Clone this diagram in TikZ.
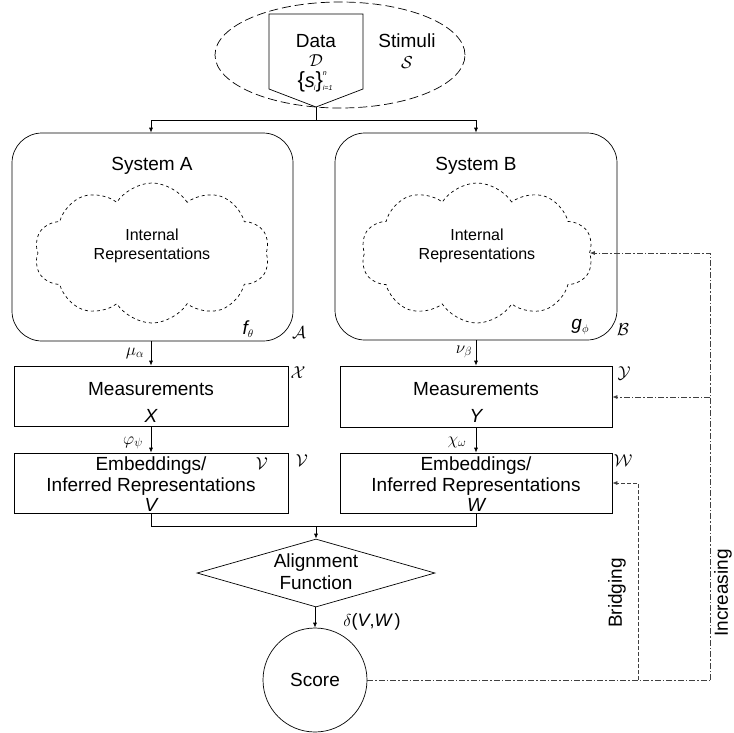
\documentclass[tikz,border=0pt]{standalone}
\usepackage{fontspec}
\setmainfont{Liberation Sans}
\usetikzlibrary{shapes.geometric,shapes.symbols,arrows.meta}
\newcommand{\tinyit}[1]{{\fontsize{7}{8}\selectfont\itshape #1}}
\begin{document}
\begin{tikzpicture}[x=1pt,y=-1pt,
  big/.style={font=\fontsize{19}{22}\selectfont},
  mid/.style={font=\fontsize{16}{19}\selectfont},
  lbl/.style={font=\fontsize{17}{19}\selectfont, inner sep=0pt},
  arr/.style={-{Latex[length=5pt,width=4pt]}},
  sysbox/.style={draw, rounded corners=30pt, inner sep=0pt},
  rectbox/.style={draw, inner sep=0pt},
  cloudbox/.style={draw, dashed, cloud, cloud puffs=10, cloud puff arc=115, aspect=1.7, inner sep=0pt},
  bridge/.style={draw=black!75, dash pattern=on 4pt off 2pt},
  incr/.style={draw=black!75, dash pattern=on 6pt off 2pt on 1.5pt off 2pt},
  line width=0.7pt]
\useasboundingbox (0,0) rectangle (734,732);
% stimuli ellipse
\node[draw, ellipse, dash pattern=on 9pt off 4pt, minimum width=250, minimum height=106, inner sep=0pt] (stim) at (340,55) {};
% data pentagon
\draw (269,14) -- (363,14) -- (363,89) -- (316,107) coordinate (tip) -- (269,89) -- cycle;
\node[big, inner sep=0pt] (dataT) at (316,41) {Data};
\node[big, inner sep=0pt] (dataD) at (316,61) {$\mathcal{D}$};
\node[inner sep=0pt, anchor=base] (dataS) at (315,87) {{\fontsize{22}{24}\selectfont\{}{\fontsize{20}{22}\selectfont\itshape s\kern-1pt}\raisebox{-3pt}{\tinyit{i}}{\fontsize{22}{24}\selectfont\}}\rlap{\raisebox{12pt}{\tinyit{n}}}\raisebox{-3pt}{\tinyit{i=1}}};
\node[big, inner sep=0pt] (stimT) at (407,41) {Stimuli};
\node[big, inner sep=0pt] (stimS) at (407,63) {$\mathcal{S}$};
% systems
\node[sysbox, minimum width=281, minimum height=208] (sysA) at (152.5,237) {};
\node[sysbox, minimum width=282, minimum height=207] (sysB) at (476,236.5) {};
\node[big, inner sep=0pt] (sysAT) at (152,166) {System A};
\node[big, inner sep=0pt] (sysBT) at (476,166) {System B};
\node[cloudbox, minimum width=235, minimum height=140] (cloudA) at (152,253) {};
\node[cloudbox, minimum width=232, minimum height=140] (cloudB) at (477,253) {};
\node[mid, align=center, inner sep=0pt] (irA) at (152,246) {Internal\\Representations};
\node[mid, align=center, inner sep=0pt] (irB) at (477,246) {Internal\\Representations};
\node[big, inner sep=0pt] (fth) at (248,329) {\itshape f\fontsize{11}{12}\selectfont\raisebox{-3pt}{$\theta$}};
\node[big, inner sep=0pt] (calA) at (299,333) {$\mathcal{A}$};
\node[big, inner sep=0pt] (gph) at (580,327) {\itshape g\fontsize{11}{12}\selectfont\raisebox{-3pt}{$\phi$}};
\node[big, inner sep=0pt] (calB) at (623,330) {$\mathcal{B}$};
% measurements
\node[rectbox, minimum width=274, minimum height=60] (measX) at (151,396) {};
\node[rectbox, minimum width=272, minimum height=61] (measY) at (476,396.5) {};
\node[big, inner sep=0pt] (mXT) at (151,389) {Measurements};
\node[big, inner sep=0pt] (mYT) at (476,389) {Measurements};
\node[big, inner sep=0pt] (mXv) at (151,416) {\itshape X};
\node[big, inner sep=0pt] (mYv) at (476,416) {\itshape Y};
\node[big, inner sep=0pt] (calX) at (298,373) {$\mathcal{X}$};
\node[big, inner sep=0pt] (calY) at (624,373) {$\mathcal{Y}$};
% embeddings
\node[rectbox, minimum width=274, minimum height=60] (embV) at (151,483) {};
\node[rectbox, minimum width=272, minimum height=60] (embW) at (476,483) {};
\node[big, inner sep=0pt] (eVT1) at (151,466) {Embeddings/};
\node[big, inner sep=0pt] (eVT2) at (151,487) {Inferred Representations};
\node[big, inner sep=0pt] (eVv) at (151,505) {\itshape V};
\node[big, inner sep=0pt] (eWT1) at (476,466) {Embeddings/};
\node[big, inner sep=0pt] (eWT2) at (476,487) {Inferred Representations};
\node[big, inner sep=0pt] (eWv) at (476,505) {\itshape W};
\node[big, inner sep=0pt] (calVin) at (262,464) {$\mathcal{V}$};
\node[big, inner sep=0pt] (calV) at (302,461) {$\mathcal{V}$};
\node[big, inner sep=0pt] (calW) at (623,461) {$\mathcal{W}$};
% alignment & score
\node[draw, diamond, aspect=3.5, minimum width=238, minimum height=68, inner sep=0pt] (align) at (316,573) {};
\node[big, align=center, inner sep=0pt] (alT) at (316,572) {Alignment\\Function};
\node[draw, circle, minimum size=104, inner sep=0pt] (score) at (315,680) {};
\node[big, inner sep=0pt] (scT) at (315,680) {Score};
% edge labels
\node[lbl] (lmu) at (135,353) {$\mu_{\alpha}$};
\node[lbl] (lnu) at (464,352) {$\nu_{\beta}$};
\node[lbl] (lphi) at (133,443) {$\varphi_{\psi}$};
\node[lbl] (lchi) at (457,442) {$\chi_{\omega}$};
\node[lbl, font=\fontsize{18}{20}\selectfont] (ldel) at (372,622) {$\delta$(\itshape V\upshape ,\itshape W\upshape\,)};
\node[big, rotate=90, inner sep=0pt] (lbr) at (617,593) {Bridging};
\node[big, rotate=90, inner sep=0pt] (lin) at (723,593) {Increasing};
% connectors
\coordinate (split) at (316,120);
\draw (tip) -- (split);
\draw[arr] (split) -| (sysA.north -| measX.north);
\draw[arr] (split) -| (sysB.north);
\draw[arr] (sysA.south -| measX.north) -- (measX.north);
\draw[arr] (sysB.south) -- (measY.north);
\draw[arr] (measX.south) -- (embV.north);
\draw[arr] (measY.south) -- (embW.north);
\coordinate (join) at (316,526);
\draw (embV.south) |- (join);
\draw (embW.south) |- (join);
\draw[arr] (join) -- (align.north);
\draw[arr] (align.south -| score.north) -- (score.north);
% feedback lines
\coordinate (b1) at (638,680);
\coordinate (b2) at (710,680);
\draw[incr] (score.east) -- (b1) -- (b2);
\draw[bridge, arr] (b1) |- (embW.east);
\draw[incr, arr] (b2) |- (cloudB.east);
\coordinate (b3) at (710,397);
\draw[incr, arr] (b3) -- (measY.east |- b3);
\end{tikzpicture}
\end{document}
